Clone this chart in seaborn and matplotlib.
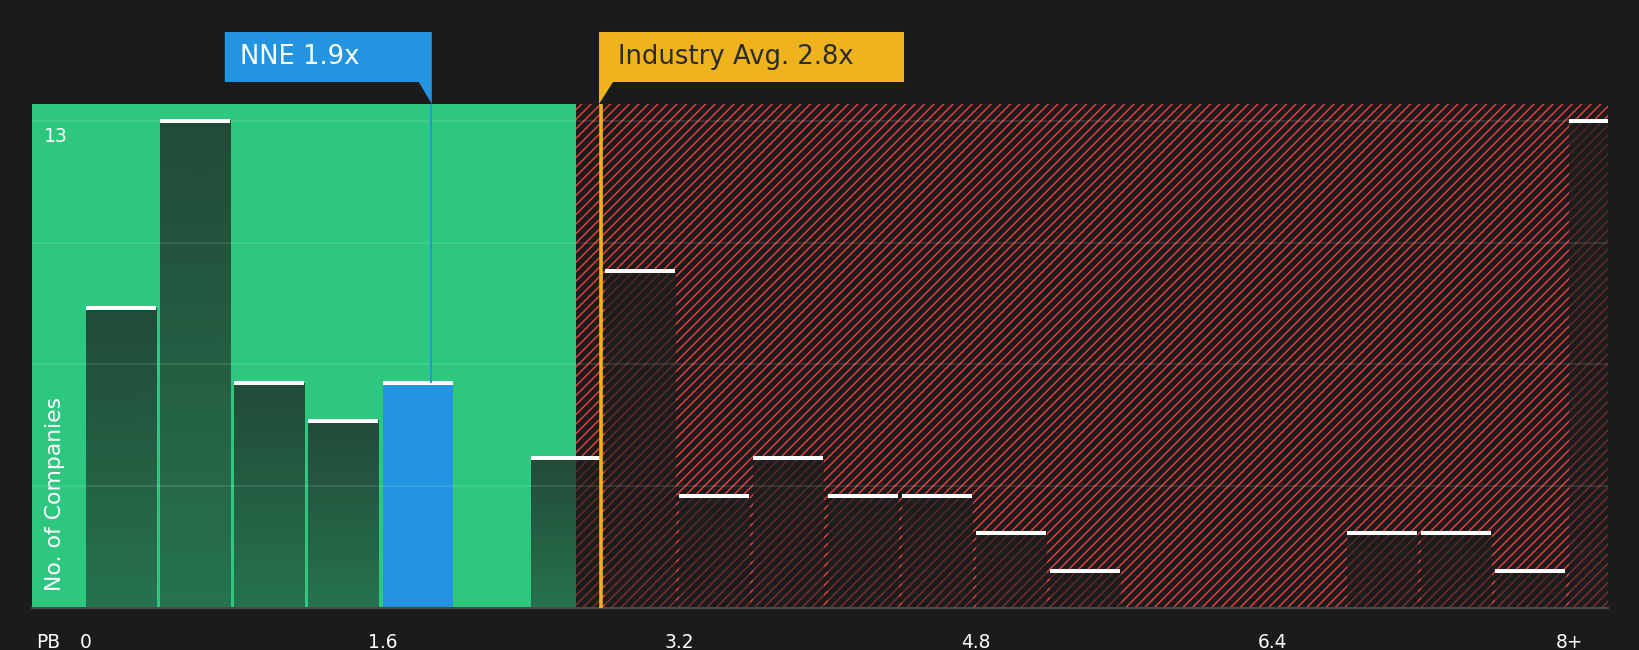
import numpy as np
import pandas as pd
import matplotlib
matplotlib.use("Agg")
import matplotlib.pyplot as plt
import seaborn as sns
from matplotlib.patches import Polygon
from matplotlib.colors import to_rgb

# Data: PB ratio histogram (bin left edges, 0.4 wide, last bin is "8+")
bin_left = [0.0, 0.4, 0.8, 1.2, 1.6, 2.0, 2.4, 2.8, 3.2, 3.6, 4.0,
            4.4, 4.8, 5.2, 5.6, 6.0, 6.4, 6.8, 7.2, 7.6, 8.0]
companies = [8, 13, 6, 5, 6, 0, 4, 9, 3, 4, 3,
             3, 2, 1, 0, 0, 0, 2, 2, 1, 13]
tick_values = [0, 1.6, 3.2, 4.8, 6.4, 8.0]
tick_labels = ["0", "1.6", "3.2", "4.8", "6.4", "8+"]
grid_values = [3.25, 6.5, 9.75, 13]

nne_pb = 1.86
industry_pb = 2.78
green_limit = 2.645
nne_label = "NNE 1.9x"
industry_label = "Industry Avg. 2.8x"

# Style
bg = "#1b1b1b"
green = "#2ec780"
blue = "#2394df"
yellow = "#eeb31d"
red = "#e0403f"
bin_width = 0.4
bar_frac = 0.944

sns.set_style("dark")
plt.rcParams["font.family"] = ["DejaVu Sans"]
plt.rcParams["hatch.color"] = red
plt.rcParams["hatch.linewidth"] = 0.55

df = pd.DataFrame({
    "pb": np.array(bin_left) + bin_width * bar_frac / 2,
    "companies": companies,
})

fig = plt.figure(figsize=(8.2, 3.25), dpi=200, facecolor=bg)
ax = fig.add_axes([32 / 1640, 42 / 650, 1576 / 1640, 504 / 650])
ax.set_facecolor(bg)

sns.barplot(data=df, x="pb", y="companies", native_scale=True, width=bar_frac,
            color=bg, errorbar=None, linewidth=0, ax=ax)
bars = list(ax.patches)

xlim = (-0.291, 8.210)
ylim = (0, 13.45)
ppu = 1576 / (xlim[1] - xlim[0])  # pixels per PB unit

# background zones
ax.axvspan(xlim[0], green_limit, color=green, lw=0, zorder=0)
ax.axvspan(green_limit, xlim[1], facecolor=bg, edgecolor=red, hatch="/" * 7,
           lw=0, zorder=0)

nne_idx = int(nne_pb // bin_width)
grad = np.zeros((100, 1, 4))
grad[..., :3] = to_rgb("#1e1e1e")
grad[:, 0, 3] = np.linspace(0.5, 0.74, 100)

for i, (patch, h) in enumerate(zip(bars, companies)):
    patch.set_zorder(2)
    if h == 0:
        patch.set_visible(False)
        continue
    x0, w = patch.get_x(), patch.get_width()
    if i == nne_idx:
        patch.set_facecolor(blue)
        patch.set_alpha(1)
    else:
        patch.set_facecolor("none")
        ax.imshow(grad, extent=(x0, x0 + w, 0, h), origin="lower",
                  aspect="auto", zorder=2, interpolation="bilinear")
    ax.hlines(h, x0, x0 + w, color="white", lw=1.44, zorder=3)

# reference lines
ax.vlines(nne_pb, companies[nne_idx], ylim[1], color=blue, lw=0.75, zorder=4)
ax.axvline(industry_pb, color=yellow, lw=1.3, zorder=4)

ax.set_xlim(*xlim)
ax.set_ylim(*ylim)

# grid / axes
ax.set_axisbelow(False)
ax.set_yticks(grid_values)
ax.yaxis.grid(True, color="white", alpha=0.1, lw=0.72)
ax.xaxis.grid(False)
ax.tick_params(axis="y", length=0, labelleft=False)
ax.set_xticks(tick_values)
ax.set_xticklabels(tick_labels)
ax.set_xticks(np.arange(0, 8.01, 0.4), minor=True)
ax.tick_params(axis="x", which="both", length=2.9, width=0.72, color="#555555",
               labelcolor="white", labelsize=6.7, pad=6)
ax.set_xlabel("")
ax.set_ylabel("")
for side in ["top", "right", "left"]:
    ax.spines[side].set_visible(False)
ax.spines["bottom"].set_color("#4a4a4a")
ax.spines["bottom"].set_linewidth(0.72)

ax.text((48 - 32) / 1576, -0.0496, "PB", transform=ax.transAxes, ha="center",
        va="top", color="white", fontsize=6.7)
ax.text((44 - 32) / 1576, 12.57, "13", transform=ax.get_yaxis_transform(),
        ha="left", va="center", color="white", fontsize=6.8)
ax.text((55 - 32) / 1576, 0.226, "No. of Companies", transform=ax.transAxes,
        rotation=90, ha="center", va="center", color="white", fontsize=7.9)

# annotation boxes
trans = ax.get_xaxis_transform()
yb, yt, ym = 1.0437, 1.1429, 1.0933

x1 = nne_pb + 1 / ppu
x0 = x1 - 207 / ppu
ax.add_patch(Polygon([(x0, yb), (x0, yt), (x1, yt), (x1, 1.0), (x1 - 13 / ppu, yb)],
                     closed=True, facecolor=blue, lw=0, transform=trans,
                     clip_on=False, zorder=5))
ax.text(x0 + 15 / ppu, ym, nne_label, transform=trans, ha="left", va="center",
        color="white", fontsize=9.3, clip_on=False, zorder=6)

x0 = industry_pb - 2.5 / ppu
x1 = x0 + 305 / ppu
ax.add_patch(Polygon([(x0, 1.0), (x0, yt), (x1, yt), (x1, yb), (x0 + 14 / ppu, yb)],
                     closed=True, facecolor=yellow, lw=0, transform=trans,
                     clip_on=False, zorder=5))
ax.text(x0 + 19 / ppu, ym, industry_label, transform=trans, ha="left", va="center",
        color="#2b2b2b", fontsize=9.3, clip_on=False, zorder=6)

fig.savefig("out.png", dpi=200, facecolor=bg)
